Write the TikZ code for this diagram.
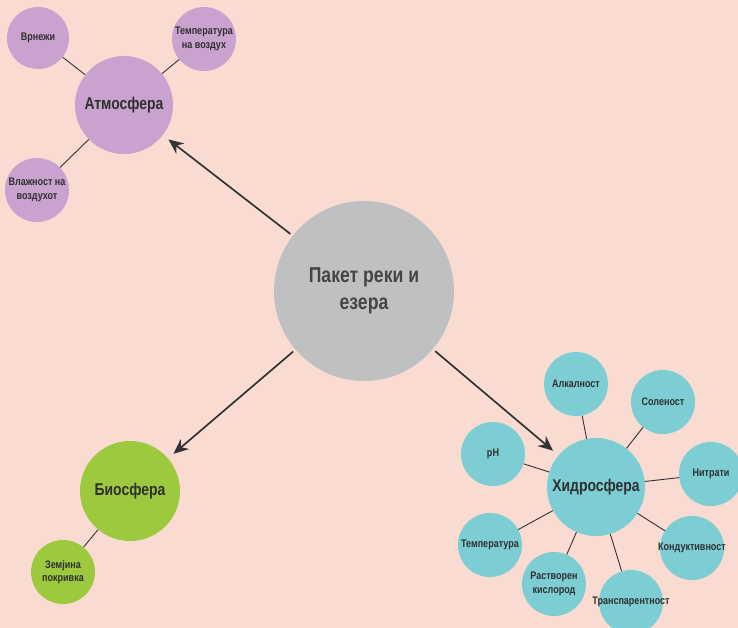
\documentclass[tikz,border=0pt]{standalone}
\usepackage{fontspec}
\setmainfont{Liberation Sans}
\newfontfamily\condfont[FakeStretch=0.82]{Liberation Sans}
\usetikzlibrary{arrows.meta}
\definecolor{bgc}{HTML}{FADBD1}
\definecolor{atmc}{HTML}{C9A2D0}
\definecolor{bioc}{HTML}{9DC93F}
\definecolor{hydc}{HTML}{7DCDD5}
\definecolor{hubc}{HTML}{BEC0C2}
\definecolor{txtc}{HTML}{303030}
\definecolor{linec}{HTML}{333333}
\begin{document}
\begin{tikzpicture}[x=1pt,y=-1pt,
  disc/.style={circle,inner sep=-14pt,minimum size=#1,align=center,text=txtc},
  bigtext/.style={font=\condfont\bfseries\fontsize{17}{20}\selectfont},
  smalltext/.style={font=\condfont\bfseries\fontsize{11}{13.5}\selectfont},
  link/.style={draw=linec,line width=0.9pt},
  arr/.style={draw=linec,line width=1.7pt,-{Stealth[length=15pt,width=13pt]},shorten <=3pt,shorten >=7pt}]
\fill[bgc] (0,0) rectangle (738,628);
\useasboundingbox (0,0) rectangle (738,628);
\clip (0,0) rectangle (738,628);
% hub
\node[disc=180,fill=hubc,font=\condfont\bfseries\fontsize{21.5}{27}\selectfont,text=txtc!90] (hub) at (364,291) {Пакет реки и\\езера};
% atmosphere
\node[disc=98,fill=atmc,bigtext] (atm) at (124,105) {Атмосфера};
\node[disc=62,fill=atmc,smalltext] (vrn) at (38,38) {Врнежи};
\node[disc=64,fill=atmc,smalltext] (tvz) at (204,39) {Температура\\на воздух};
\node[disc=64,fill=atmc,smalltext] (vlz) at (37,190) {Влажност на\\воздухот};
% biosphere
\node[disc=100,fill=bioc,bigtext] (bio) at (130,491) {Биосфера};
\node[disc=64,fill=bioc,smalltext] (zem) at (63,572) {Земјина\\покривка};
% hydrosphere
\node[disc=98,fill=hydc,bigtext] (hyd) at (596,487) {Хидросфера};
\node[disc=64,fill=hydc,smalltext] (alk) at (576,384) {Алкалност};
\node[disc=64,fill=hydc,smalltext] (sol) at (663,402) {Соленост};
\node[disc=64,fill=hydc,smalltext] (nit) at (711,474) {Нитрати};
\node[disc=64,fill=hydc,smalltext] (ph) at (493,454) {pH};
\node[disc=64,fill=hydc,smalltext] (tem) at (490,545) {Температура};
\node[disc=64,fill=hydc,smalltext] (ras) at (554,584) {Растворен\\кислород};
\node[disc=64,fill=hydc,smalltext] (tra) at (631,602) {Транспарентност};
\node[disc=64,fill=hydc,smalltext] (kon) at (692,548) {Кондуктивност};
% links
\draw[link] (atm) -- (vrn);
\draw[link] (atm) -- (tvz);
\draw[link] (atm) -- (vlz);
\draw[link] (bio) -- (zem);
\foreach \n in {alk,sol,nit,ph,tem,ras,tra,kon} \draw[link] (hyd) -- (\n);
% arrows
\draw[arr] (hub) -- (atm);
\draw[arr] (hub) -- (bio);
\draw[arr] (hub) -- (hyd);
\end{tikzpicture}
\end{document}
